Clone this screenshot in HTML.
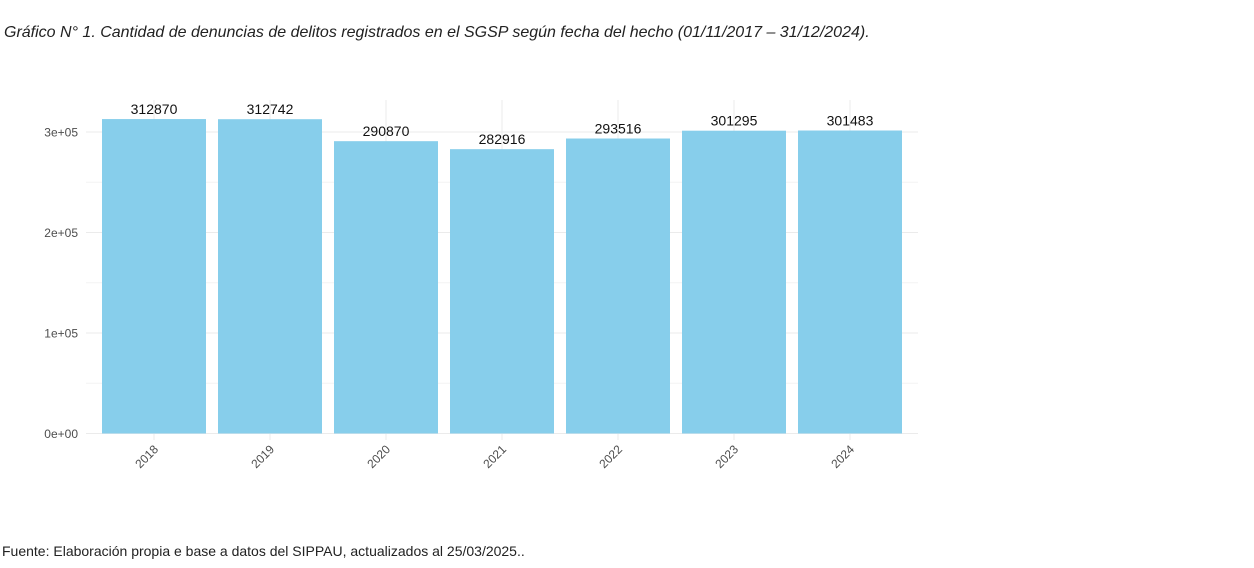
<!DOCTYPE html>
<html><head><meta charset="utf-8"><style>
body{margin:0;background:#fff;width:1254px;height:568px;overflow:hidden;font-family:"Liberation Sans",sans-serif}
.t{position:absolute;left:4px;top:24px;font-size:16px;font-style:italic;color:#222}
.f{position:absolute;left:2px;top:543px;font-size:14px;color:#222}
svg{position:absolute;left:0;top:0}
</style></head><body>
<div class="t">Gráfico N° 1. Cantidad de denuncias de delitos registrados en el SGSP según fecha del hecho (01/11/2017 – 31/12/2024).</div>
<svg id="c" width="1254" height="568"></svg>
<div class="f">Fuente: Elaboración propia e base a datos del SIPPAU, actualizados al 25/03/2025..</div>
<script>
const categories=["2018","2019","2020","2021","2022","2023","2024"];
const values=[312870,312742,290870,282916,293516,301295,301483];
const yTicks=[0,100000,200000,300000];
const yTickLabels=["0e+00","1e+05","2e+05","3e+05"];
const svg=document.getElementById('c');const NS='http://www.w3.org/2000/svg';
const x0=86,x1=918,y0=433.5,pxPer=301.5/300000;
const y=v=>y0-v*pxPer;
const step=116,first=154,bw=104;
const xc=i=>first+i*step;
function el(t,a,p){const e=document.createElementNS(NS,t);for(const k in a)e.setAttribute(k,a[k]);(p||svg).appendChild(e);return e;}
for(let v=0;v<=300000;v+=50000){const g=el('line',{x1:x0,x2:x1,y1:y(v),y2:y(v),stroke:v%100000?'#f3f3f3':'#ebebeb','stroke-width':1});}
categories.forEach((c,i)=>{const g=el('line',{x1:xc(i),x2:xc(i),y1:100,y2:440,stroke:'#ebebeb'});});
yTicks.forEach((v,i)=>{const t=el('text',{x:78,y:y(v)+4.5,'text-anchor':'end','font-size':12,fill:'#4d4d4d'});t.textContent=yTickLabels[i];});
categories.forEach((c,i)=>{
const r=el('rect',{x:xc(i)-bw/2,y:y(values[i]),width:bw,height:y0-y(values[i]),fill:'#87ceeb'});

const l=el('text',{x:xc(i),y:y(values[i])-5,'text-anchor':'middle','font-size':14,fill:'#111'});l.textContent=values[i];

const t=el('text',{x:xc(i)+5,y:450,'text-anchor':'end','font-size':12,fill:'#4d4d4d',transform:`rotate(-45 ${xc(i)+5} 450)`});t.textContent=c;

});
</script>
</body></html>
